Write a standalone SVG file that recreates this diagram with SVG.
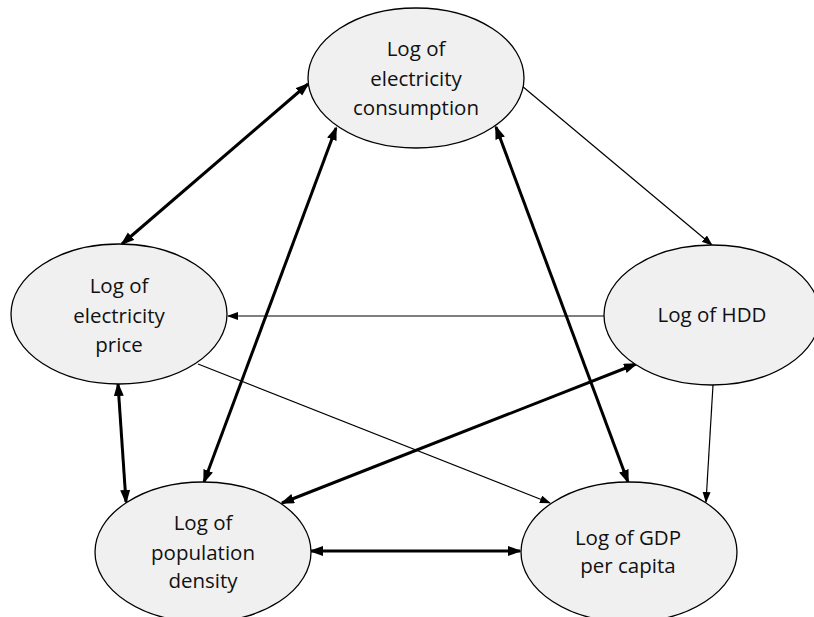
<svg xmlns="http://www.w3.org/2000/svg" width="814" height="617" viewBox="0 0 814 617">
<style>
.node ellipse{fill:#f0f0f0;stroke:#000;stroke-width:1.3}
.node text{font-family:"Open Sans","Noto Sans",sans-serif;font-size:20.5px;fill:#111;text-anchor:middle}
.thin{stroke:#000;stroke-width:1.2;fill:none;marker-end:url(#ah)}
.thick{stroke:#000;stroke-width:3;fill:none;marker-start:url(#ahb);marker-end:url(#ahb)}
</style>
<defs>
<marker id="ah" markerUnits="userSpaceOnUse" markerWidth="11" markerHeight="9" refX="10" refY="4" orient="auto"><path d="M0,0 L11,4 L0,8 z" fill="#000"/></marker>
<marker id="ahb" markerUnits="userSpaceOnUse" markerWidth="14" markerHeight="11" refX="12" refY="5" orient="auto-start-reverse"><path d="M0,0 L14,5 L0,10 z" fill="#000"/></marker>
</defs>
<rect width="814" height="617" fill="#fff"/>
<g id="connectors">
<line class="thick" x1="308" y1="84" x2="122" y2="244"/>
<line class="thin" x1="522" y1="86" x2="712" y2="245"/>
<line class="thin" x1="604" y1="316" x2="228" y2="316"/>
<line class="thin" x1="198" y1="364" x2="550" y2="503"/>
<line class="thin" x1="713" y1="385" x2="706" y2="502"/>
<line class="thick" x1="336" y1="128" x2="204" y2="482"/>
<line class="thick" x1="496" y1="127" x2="628" y2="482"/>
<line class="thick" x1="118" y1="384" x2="126" y2="502"/>
<line class="thick" x1="636" y1="364" x2="282" y2="503"/>
<line class="thick" x1="311" y1="551" x2="520" y2="551"/>
</g>
<g id="consumption" class="node"><ellipse cx="416" cy="78" rx="108" ry="70"/><text x="416" y="56">Log of</text><text x="416" y="86">electricity</text><text x="416" y="115">consumption</text></g>
<g id="price" class="node"><ellipse cx="119" cy="314" rx="108" ry="70"/><text x="119" y="293">Log of</text><text x="119" y="323">electricity</text><text x="119" y="352">price</text></g>
<g id="hdd" class="node"><ellipse cx="712" cy="315" rx="108" ry="70"/><text x="712" y="322">Log of HDD</text></g>
<g id="population" class="node"><ellipse cx="203" cy="552" rx="108" ry="70"/><text x="203" y="530">Log of</text><text x="203" y="560">population</text><text x="203" y="588">density</text></g>
<g id="gdp" class="node"><ellipse cx="629" cy="552" rx="108" ry="70"/><text x="628" y="545">Log of GDP</text><text x="628" y="573">per capita</text></g>
</svg>
